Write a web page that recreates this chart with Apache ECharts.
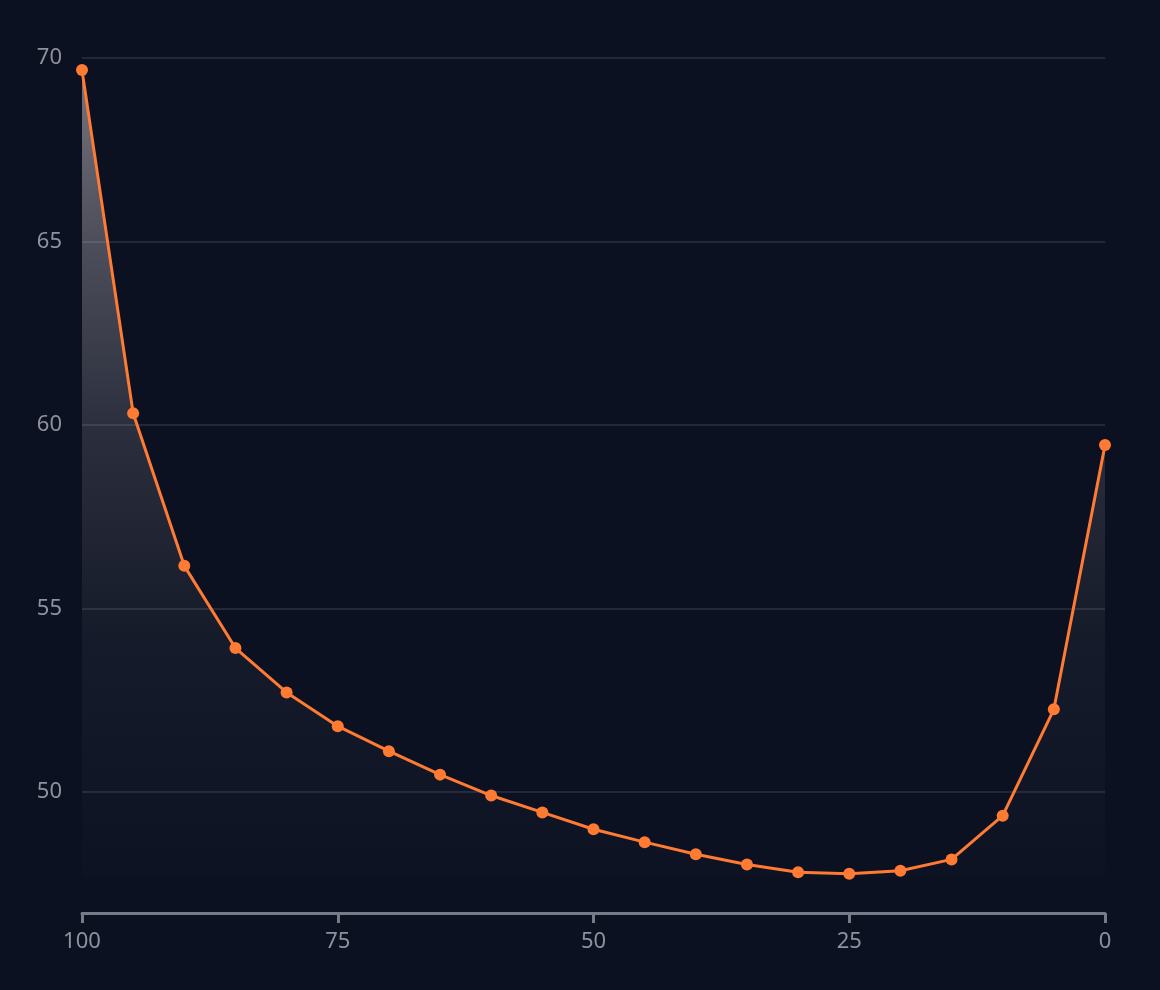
<!DOCTYPE html>
<html>
<head>
<meta charset="utf-8">
<script src="https://cdn.jsdelivr.net/npm/echarts@6/dist/echarts.min.js"></script>
<style>
  html, body { margin: 0; padding: 0; background: #0b1121; }
  #chart { width: 1160px; height: 990px; }
</style>
</head>
<body>
<div id="chart"></div>
<script>
// x positions (percent), read right to left on the inverted axis
var xValues = [100, 95, 90, 85, 80, 75, 70, 65, 60, 55, 50, 45, 40, 35, 30, 25, 20, 15, 10, 5, 0];
var yValues = [69.67, 60.32, 56.16, 53.92, 52.71, 51.79, 51.11, 50.47, 49.90, 49.44, 48.98,
               48.63, 48.30, 48.02, 47.81, 47.77, 47.85, 48.16, 49.35, 52.25, 59.45];
var xTicks = [0, 25, 50, 75, 100];

var points = xValues.map(function (x, i) { return [x, yValues[i]]; });

var myChart = echarts.init(document.getElementById('chart'));

var labelColor = '#8f919c';
var axisColor = '#767b88';

var option = {
  backgroundColor: '#0b1121',
  animation: false,
  grid: { left: 82, right: 55, top: 58, bottom: 113 },
  xAxis: {
    type: 'value',
    inverse: true,
    min: xTicks[0],
    max: xTicks[xTicks.length - 1],
    interval: 25,
    offset: 36,
    axisLine: { show: true, lineStyle: { color: axisColor, width: 3 } },
    axisTick: { show: true, length: 10, lineStyle: { color: axisColor, width: 3 } },
    splitLine: { show: false },
    axisLabel: { color: labelColor, fontSize: 22, fontFamily: 'Noto Sans', margin: 18 }
  },
  yAxis: {
    type: 'value',
    min: 47.68,
    max: 70,
    axisLine: { show: false },
    axisTick: { show: false },
    splitLine: { show: true, showMinLine: false, lineStyle: { color: '#222839', width: 2 } },
    axisLabel: { color: labelColor, fontSize: 22, fontFamily: 'Noto Sans', margin: 20, showMinLabel: false }
  },
  series: [{
    type: 'line',
    data: points,
    symbol: 'circle',
    symbolSize: 12,
    lineStyle: { color: '#ff7a33', width: 3 },
    itemStyle: { color: '#ff7a33' },
    areaStyle: {
      origin: 'start',
      color: new echarts.graphic.LinearGradient(0, 0, 0, 1, [
        { offset: 0, color: 'rgba(215,205,210,0.75)' },
        { offset: 0.2, color: 'rgba(215,205,210,0.48)' },
        { offset: 0.45, color: 'rgba(215,205,210,0.22)' },
        { offset: 0.7, color: 'rgba(215,205,210,0.08)' },
        { offset: 1, color: 'rgba(215,205,210,0.01)' }
      ])
    }
  }]
};

myChart.setOption(option);
</script>
</body>
</html>
